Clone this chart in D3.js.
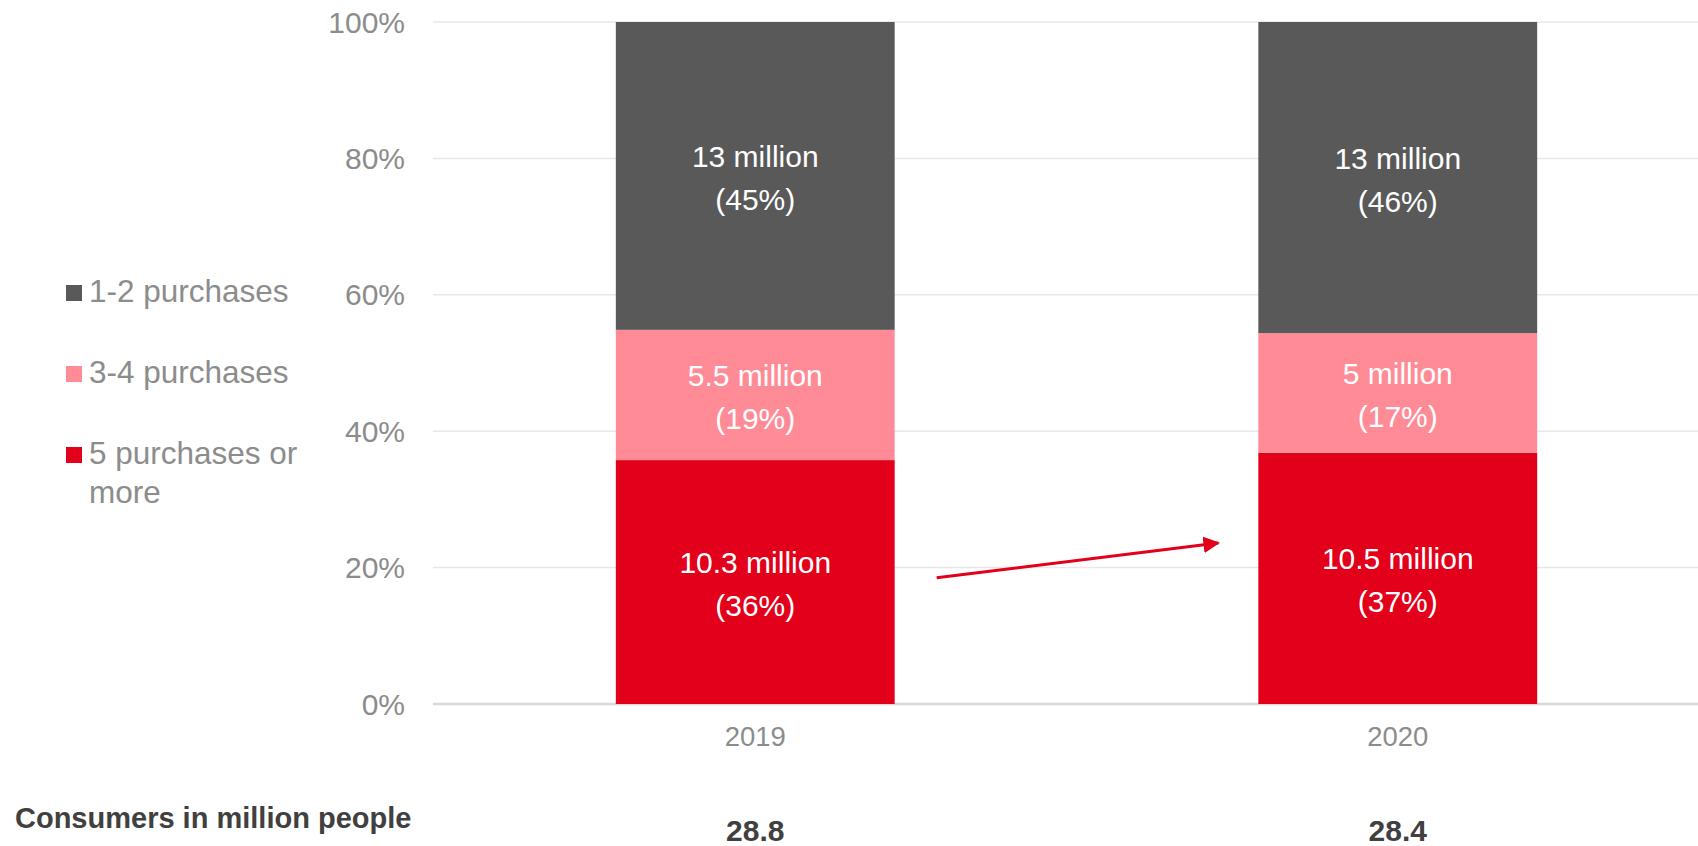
<!DOCTYPE html>
<head>
<meta charset="utf-8">
<title>Consumers by purchase frequency</title>
<script type="text/javascript" src="https://d3js.org/d3.v7.min.js"></script>
<style>
body { margin: 0; background: #fff; }
svg text { font-family: Arial, "Liberation Sans", sans-serif; }
</style>
</head>
<body>
<div id="container"></div>
<script>
//*******************
//data
//*******************
const years = ["2019", "2020"];
const groups = ["5 purchases or more", "3-4 purchases", "1-2 purchases"];
const fiveOrMore = [10.3, 10.5];     // million
const threeFour = [5.5, 5];
const oneTwo = [13, 13];
const shareLabels = [["36%", "19%", "45%"], ["37%", "17%", "46%"]];
const totals = ["28.8", "28.4"];
const yTicks = [0, 0.2, 0.4, 0.6, 0.8, 1];

const colors = ["#e2001a", "#ff8b97", "#595959"];

//*******************
//setup svg
//*******************
const W = 1698, H = 846;
const svg = d3.select("#container").append("svg")
    .attr("width", W)
    .attr("height", H);

const rows = years.map(function(y, i) {
    return { year: y, g0: fiveOrMore[i], g1: threeFour[i], g2: oneTwo[i] };
});
const series = d3.stack()
    .keys(["g0", "g1", "g2"])
    .offset(d3.stackOffsetExpand)(rows);

const x = d3.scaleBand()
    .domain(years)
    .range([434, 1719])
    .paddingInner(0.566)
    .paddingOuter(0.283);

const y = d3.scaleLinear()
    .domain([0, 1])
    .range([704, 22]);

//*******************
//grid + y labels
//*******************
svg.append("g")
    .selectAll("line")
    .data(yTicks)
    .enter()
    .append("line")
    .attr("x1", 433)
    .attr("x2", W)
    .attr("y1", function(d) { return y(d); })
    .attr("y2", function(d) { return y(d); })
    .attr("stroke", function(d) { return d === 0 ? "#d9d9d9" : "#e8e8e8"; })
    .attr("stroke-width", function(d) { return d === 0 ? 2.5 : 1.5; });

svg.append("g")
    .selectAll("text")
    .data(yTicks)
    .enter()
    .append("text")
    .attr("x", 405)
    .attr("y", function(d) { return y(d) + 10.5; })
    .attr("text-anchor", "end")
    .attr("fill", "#8c8c8c")
    .style("font-size", "30px")
    .text(d3.format(".0%"));

//*******************
//bars
//*******************
const layers = svg.selectAll(".layer")
    .data(series)
    .enter()
    .append("g")
    .attr("class", "layer")
    .attr("fill", function(d, i) { return colors[i]; });

layers.selectAll("rect")
    .data(function(d) { return d; })
    .enter()
    .append("rect")
    .attr("x", function(d) { return x(d.data.year); })
    .attr("width", x.bandwidth())
    .attr("y", function(d) { return y(d[1]); })
    .attr("height", function(d) { return y(d[0]) - y(d[1]); });

//segment labels
layers.each(function(s, si) {
    const g = d3.select(this);
    s.forEach(function(d, yi) {
        const cx = x(d.data.year) + x.bandwidth() / 2;
        const cy = (y(d[0]) + y(d[1])) / 2;
        const t = g.append("text")
            .attr("text-anchor", "middle")
            .attr("fill", "#ffffff")
            .style("font-size", "30px");
        t.append("tspan").attr("x", cx).attr("y", cy - 9)
            .text(d.data["g" + si] + " million");
        t.append("tspan").attr("x", cx).attr("y", cy + 34)
            .text("(" + shareLabels[yi][si] + ")");
    });
});

//*******************
//x labels + totals
//*******************
svg.append("g")
    .selectAll("text")
    .data(years)
    .enter()
    .append("text")
    .attr("x", function(d) { return x(d) + x.bandwidth() / 2; })
    .attr("y", 746)
    .attr("text-anchor", "middle")
    .attr("fill", "#8c8c8c")
    .style("font-size", "27.5px")
    .text(function(d) { return d; });

svg.append("g")
    .selectAll("text")
    .data(totals)
    .enter()
    .append("text")
    .attr("x", function(d, i) { return x(years[i]) + x.bandwidth() / 2; })
    .attr("y", 841)
    .attr("text-anchor", "middle")
    .attr("fill", "#404040")
    .style("font-size", "30px")
    .style("font-weight", "bold")
    .text(function(d) { return d; });

svg.append("text")
    .attr("x", 15)
    .attr("y", 828)
    .attr("fill", "#404040")
    .style("font-size", "29px")
    .style("font-weight", "bold")
    .text("Consumers in million people");

//*******************
//legend
//*******************
const legendOrder = [2, 1, 0];
const legend = svg.append("g");
legendOrder.forEach(function(gi, k) {
    const base = 302 + k * 81;
    legend.append("rect")
        .attr("x", 66)
        .attr("y", base - 17)
        .attr("width", 16)
        .attr("height", 16)
        .attr("fill", colors[gi]);
    const t = legend.append("text")
        .attr("fill", "#8c8c8c")
        .style("font-size", "31.5px");
    if (gi === 0) {
        t.append("tspan").attr("x", 89).attr("y", base).text("5 purchases or");
        t.append("tspan").attr("x", 89).attr("y", base + 39).text("more");
    } else {
        t.append("tspan").attr("x", 89).attr("y", base).text(groups[gi]);
    }
});

//**********************
//arrow annotation
//**********************
svg.append("defs").append("marker")
    .attr("id", "head")
    .attr("viewBox", "0 0 10 10")
    .attr("refX", 9)
    .attr("refY", 5)
    .attr("markerWidth", 5.5)
    .attr("markerHeight", 5.5)
    .attr("orient", "auto")
    .append("path")
    .attr("d", "M0,0 L10,5 L0,10 z")
    .attr("fill", "#e2001a");

svg.append("line")
    .attr("x1", x("2019") + x.bandwidth() + 42)
    .attr("y1", y(0.185))
    .attr("x2", x("2020") - 40)
    .attr("y2", y(0.236))
    .attr("stroke", "#e2001a")
    .attr("stroke-width", 3)
    .attr("marker-end", "url(#head)");
</script>
</body>
